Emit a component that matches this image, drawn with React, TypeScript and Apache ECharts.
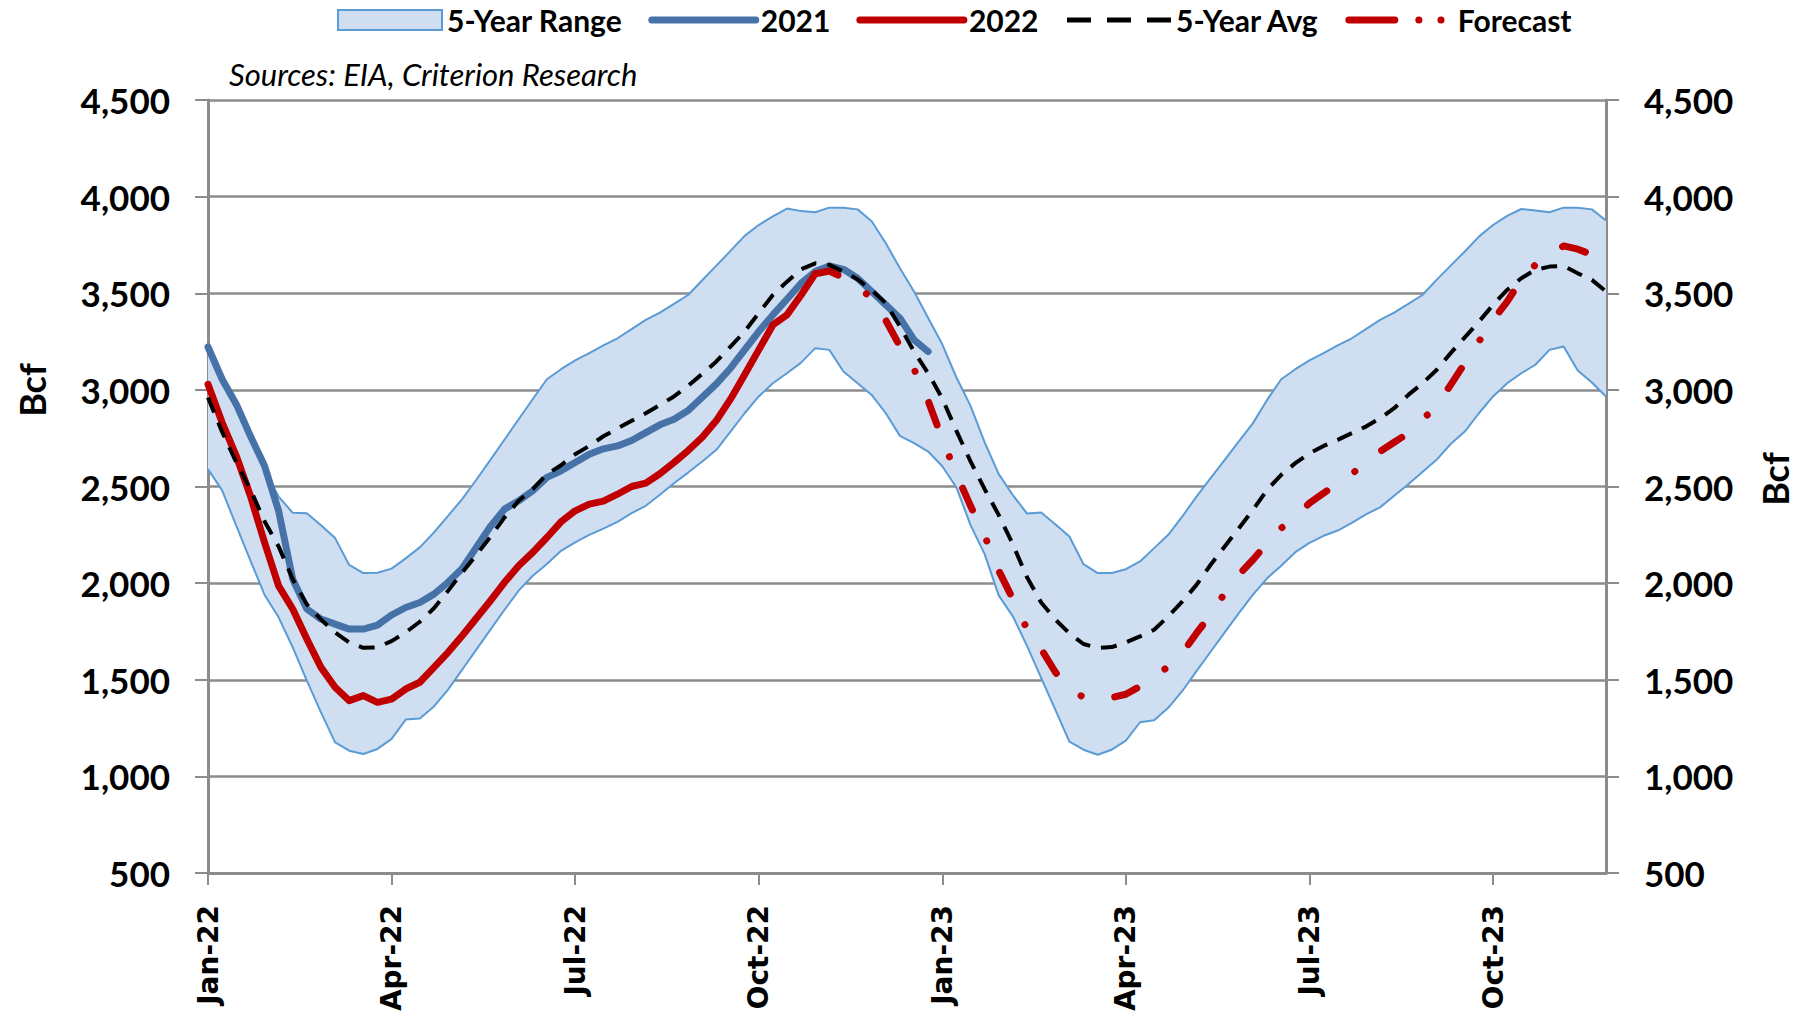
import React, { useEffect, useRef } from "react";
import * as echarts from "echarts";

// ---------- data (weekly, first week ending 2022-01-07) ----------
const MONTHS = ["Jan", "Feb", "Mar", "Apr", "May", "Jun", "Jul", "Aug", "Sep", "Oct", "Nov", "Dec"];
const FIRST_WEEK = Date.UTC(2022, 0, 7);
const QUARTER_WEEKS = 13;

const rangeUpper = [
  3230, 3062, 2925, 2748, 2580, 2448, 2364, 2362, 2300, 2233, 2094, 2052, 2054, 2075, 2128, 2185, 2262, 2348, 2435, 2535,
  2638, 2743, 2848, 2953, 3055, 3107, 3153, 3190, 3230, 3267, 3314, 3362, 3400, 3445, 3491, 3567, 3643, 3719, 3797, 3853,
  3898, 3938, 3925, 3919, 3943, 3943, 3934, 3873, 3759, 3629, 3509, 3372,
  3236, 3064, 2917, 2728, 2564, 2455, 2360, 2366, 2305, 2241, 2098, 2052, 2052, 2072, 2112, 2181, 2250, 2345,
  2448, 2543, 2638, 2733, 2828, 2948, 3055, 3107, 3153, 3190, 3230, 3267, 3314, 3362, 3400, 3445, 3491, 3569,
  3643, 3716, 3793, 3853, 3900, 3936, 3928, 3919, 3943, 3943, 3934, 3876,
];

const rangeLower = [
  2590, 2480, 2297, 2118, 1940, 1823, 1668, 1495, 1331, 1176, 1133, 1116, 1142, 1194, 1294, 1300, 1362, 1449, 1552, 1656,
  1759, 1862, 1961, 2038, 2099, 2167, 2211, 2250, 2282, 2317, 2362, 2400, 2457, 2517, 2572, 2629, 2690, 2784, 2879, 2966,
  3034, 3086, 3141, 3216, 3207, 3095, 3034, 2974, 2879, 2762, 2724, 2681,
  2605, 2495, 2300, 2150, 1935, 1828, 1675, 1510, 1345, 1180, 1138, 1112, 1138, 1185, 1280, 1290, 1355, 1442,
  1545, 1645, 1745, 1845, 1940, 2025, 2090, 2160, 2208, 2245, 2272, 2312, 2356, 2392, 2452, 2512, 2575, 2638,
  2720, 2784, 2879, 2966, 3034, 3086, 3130, 3207, 3224, 3100, 3038, 2966,
];

const avg5Year = [
  2960, 2782, 2625, 2486, 2320, 2190, 2020, 1890, 1812, 1745, 1693, 1665, 1668, 1700, 1745, 1800, 1870, 1960, 2055, 2145,
  2240, 2340, 2426, 2486, 2564, 2610, 2667, 2710, 2760, 2800, 2840, 2879, 2922, 2966, 3021, 3083, 3147, 3224, 3302, 3397,
  3491, 3560, 3624, 3655, 3647, 3612, 3572, 3517, 3448, 3328, 3198, 3086,
  2955, 2788, 2630, 2486, 2352, 2200, 2030, 1900, 1812, 1740, 1685, 1665, 1669, 1693, 1724, 1759, 1828, 1905,
  1991, 2095, 2190, 2284, 2379, 2483, 2560, 2621, 2672, 2710, 2741, 2776, 2810, 2853, 2905, 2974, 3034, 3103,
  3190, 3272, 3353, 3440, 3517, 3578, 3621, 3638, 3641, 3603, 3569, 3509,
];

const stor2021 = [
  3222, 3055, 2926, 2762, 2607, 2374, 2020, 1866, 1814, 1788, 1762, 1762, 1783, 1835, 1874, 1900, 1943, 2004, 2076, 2185,
  2293, 2383, 2426, 2478, 2547, 2581, 2624, 2667, 2695, 2710, 2738, 2779, 2819, 2848, 2893, 2962, 3031, 3112, 3207, 3302,
  3388, 3469, 3552, 3612, 3641, 3624, 3578, 3509, 3440, 3371, 3259, 3198,
];

const stor2022 = [
  3029, 2831, 2659, 2452, 2211, 1986, 1866, 1711, 1564, 1461, 1392, 1418, 1383, 1400, 1452, 1487, 1564, 1642, 1728, 1818,
  1909, 2004, 2090, 2159, 2236, 2317, 2374, 2409, 2424, 2460, 2500, 2517, 2566, 2624, 2686, 2755, 2841, 2952, 3078, 3207,
  3336, 3388, 3491, 3600,
];

const FORECAST_START_WEEK = 43;
const forecast = [
  3600, 3615, 3580, 3530, 3478, 3360, 3225, 3107, 2943, 2745, 2564, 2400, 2245, 2064, 1917, 1762, 1659, 1540, 1450, 1410,
  1405, 1408, 1425, 1466, 1512, 1569, 1638, 1741, 1836, 1948, 2043, 2121, 2207, 2284, 2345, 2414, 2466, 2517, 2566, 2621,
  2681, 2729, 2776, 2845, 2918, 3026, 3138, 3250, 3362, 3457, 3569, 3647, 3698, 3745, 3728, 3700, 3660,
];

const Y_MIN = 500;
const Y_MAX = 4500;
const Y_STEP = 500;

const weeks = avg5Year.map((_, i) => new Date(FIRST_WEEK + i * 7 * 86400000).toISOString().slice(0, 10));
const forecastData = [...Array(FORECAST_START_WEEK).fill(null), ...forecast];
const rangeSpan = rangeUpper.map((u, i) => u - rangeLower[i]);

// ---------- styling ----------
const GRID_COLOR = "#8c8c8c";
const FONT = "Lato, 'Open Sans', sans-serif";
const BAND_FILL = "#cfdff1";
const BAND_LINE = "#5b9bd5";
const BLUE = "#4672a8";
const RED = "#c00000";

const monthLabel = (v: string) => {
  const d = new Date(v + "T00:00:00Z");
  return `${MONTHS[d.getUTCMonth()]}-${String(d.getUTCFullYear()).slice(2)}`;
};
const isQuarter = (i: number) => i % QUARTER_WEEKS === 0;

export default function App() {
  const ref = useRef<HTMLDivElement>(null);

  useEffect(() => {
    if (!ref.current) return;
    const chart = echarts.init(ref.current, undefined, { renderer: "svg" });

    const yBase = {
      type: "value",
      min: Y_MIN,
      max: Y_MAX,
      interval: Y_STEP,
      axisLine: { show: true, lineStyle: { color: GRID_COLOR, width: 3 } },
      axisTick: { show: true, length: 13, lineStyle: { color: GRID_COLOR, width: 2 } },
      axisLabel: {
        margin: 38,
        fontFamily: FONT,
        fontWeight: "bold",
        fontSize: 35,
        color: "#000",
        formatter: (v: number) => v.toLocaleString("en-US"),
      },
    };

    const hideSym = { opacity: 0 };

    chart.setOption({
      animation: false,
      backgroundColor: "#ffffff",
      grid: { left: 208, right: 190, top: 100, bottom: 142 },
      legend: {
        left: 332,
        top: 0,
        itemWidth: 104,
        itemHeight: 20,
        itemGap: 26,
        selectedMode: false,
        textStyle: { fontFamily: FONT, fontWeight: "bold", fontSize: 30, color: "#000" },
        data: [
          { name: "5-Year Range", icon: "rect", itemStyle: { color: BAND_FILL, borderColor: BAND_LINE, borderWidth: 2 } },
          { name: "2021", itemStyle: hideSym, lineStyle: { color: BLUE, width: 7, cap: "round" } },
          { name: "2022", itemStyle: hideSym, lineStyle: { color: RED, width: 7, cap: "round" } },
          { name: "5-Year Avg", itemStyle: hideSym, lineStyle: { color: "#000", width: 5, type: [24, 16] } },
          {
            name: "Forecast",
            itemStyle: hideSym,
            lineStyle: { color: RED, width: 7, cap: "round", type: [46, 24, 0.1, 22, 0.1, 40] },
          },
        ],
      },
      xAxis: {
        type: "category",
        data: weeks,
        boundaryGap: false,
        axisLine: { show: true, lineStyle: { color: GRID_COLOR, width: 3 } },
        axisTick: { show: true, interval: (i: number) => isQuarter(i), length: 12, lineStyle: { color: GRID_COLOR, width: 2 } },
        axisLabel: {
          interval: (i: number) => isQuarter(i),
          rotate: 90,
          margin: 32,
          fontFamily: "'DejaVu Sans', sans-serif",
          fontWeight: "bold",
          fontSize: 28,
          color: "#000",
          formatter: (v: string) => monthLabel(v),
        },
        splitLine: { show: false },
      },
      yAxis: [
        { ...yBase, position: "left", splitLine: { show: true, lineStyle: { color: GRID_COLOR, width: 2.5 } } },
        { ...yBase, position: "right", splitLine: { show: false } },
      ],
      series: [
        {
          name: "5-Year Range lower",
          type: "line",
          data: rangeLower,
          stack: "range",
          symbol: "none",
          lineStyle: { color: BAND_LINE, width: 2 },
          z: 1,
        },
        {
          name: "5-Year Range",
          type: "line",
          data: rangeSpan,
          stack: "range",
          symbol: "none",
          lineStyle: { color: BAND_LINE, width: 2 },
          areaStyle: { color: BAND_FILL, opacity: 1 },
          itemStyle: { color: BAND_FILL },
          z: 1,
        },
        {
          name: "2021",
          type: "line",
          data: stor2021,
          symbol: "none",
          itemStyle: { color: BLUE },
          lineStyle: { color: BLUE, width: 7, cap: "round", join: "round" },
          z: 2,
        },
        {
          name: "2022",
          type: "line",
          data: stor2022,
          symbol: "none",
          itemStyle: { color: RED },
          lineStyle: { color: RED, width: 7, cap: "round", join: "round" },
          z: 3,
        },
        {
          name: "Forecast",
          type: "line",
          data: forecastData,
          symbol: "none",
          itemStyle: { color: RED },
          lineStyle: { color: RED, width: 7, type: [24, 34, 0.1, 34], cap: "round", join: "round" },
          z: 4,
        },
        {
          name: "5-Year Avg",
          type: "line",
          data: avg5Year,
          symbol: "none",
          itemStyle: { color: "#000" },
          lineStyle: { color: "#000", width: 4, type: [16, 11] },
          z: 5,
        },
      ],
      graphic: [
        {
          type: "text",
          left: 229,
          top: 58,
          style: {
            text: "Sources: EIA, Criterion Research",
            fontFamily: FONT,
            fontStyle: "italic",
            fontSize: 31,
            fill: "#000",
          },
        },
        {
          type: "text",
          x: 32,
          y: 390,
          rotation: Math.PI / 2,
          style: { text: "Bcf", fontFamily: FONT, fontWeight: "bold", fontSize: 36, fill: "#000", align: "center", verticalAlign: "middle" },
        },
        {
          type: "text",
          x: 1775,
          y: 479,
          rotation: Math.PI / 2,
          style: { text: "Bcf", fontFamily: FONT, fontWeight: "bold", fontSize: 36, fill: "#000", align: "center", verticalAlign: "middle" },
        },
      ],
    });

    return () => chart.dispose();
  }, []);

  return <div ref={ref} style={{ position: "fixed", left: 0, top: 0, width: 1796, height: 1015, background: "#fff" }} />;
}
